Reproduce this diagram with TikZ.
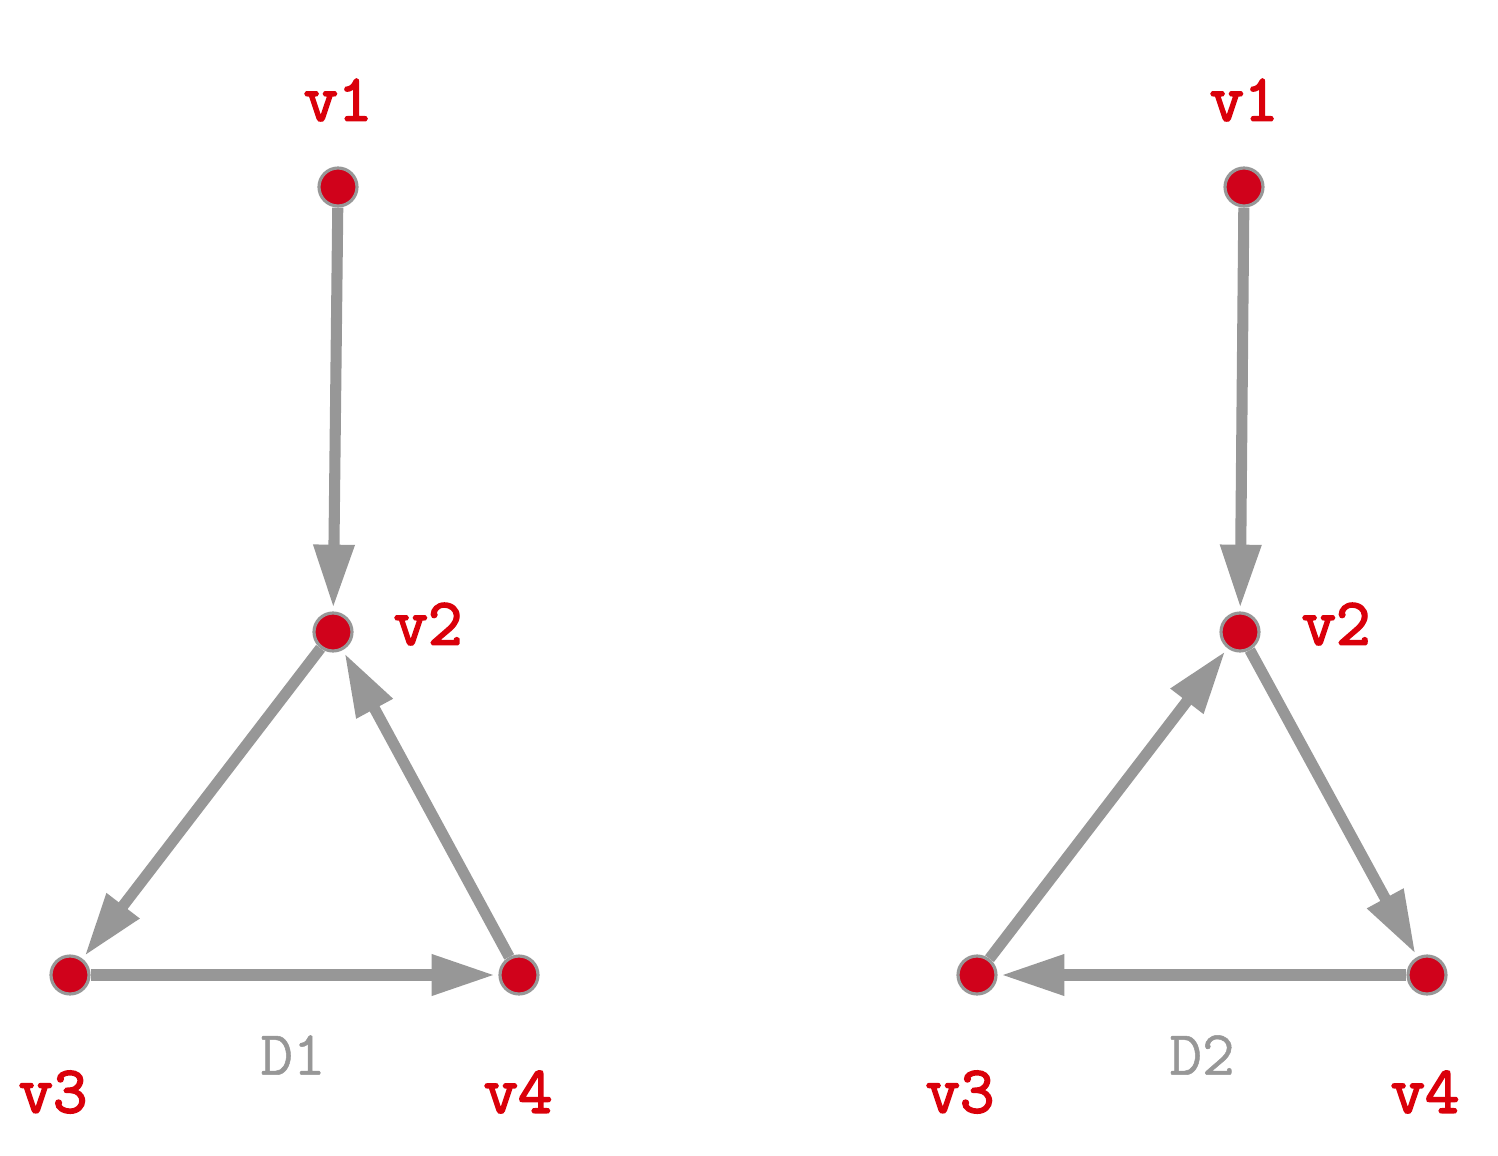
\documentclass[tikz,border=0pt]{standalone}
\usepackage{fontspec}
\newfontfamily\vfont[FakeBold=2.5]{Latin Modern Mono}
\newfontfamily\dfont[FakeBold=0.8]{Latin Modern Mono}
\usetikzlibrary{arrows.meta}
\definecolor{nodered}{RGB}{208,2,27}
\definecolor{labred}{RGB}{218,0,10}
\definecolor{edgegray}{RGB}{151,151,151}
\tikzset{
  vert/.style={circle,fill=nodered,draw=edgegray,line width=1.8pt,minimum size=0.76cm,inner sep=0pt},
  vlab/.style={text=labred,font=\vfont\fontsize{38}{38}\selectfont,inner sep=0pt},
  glab/.style={text=edgegray,font=\dfont\fontsize{36}{36}\selectfont,inner sep=0pt},
  edge/.style={draw=edgegray,line width=6.3pt,-{Triangle[length=36pt,width=22pt]},shorten >=2pt}
}
\begin{document}
\begin{tikzpicture}[x=0.02cm,y=-0.02cm]
\useasboundingbox (0,0) rectangle (1498,1156);
% left graph
\node[vert] (a1) at (338,187) {};
\node[vert] (a2) at (333,632) {};
\node[vert] (a3) at (70,975) {};
\node[vert] (a4) at (519,975) {};
\node[vlab] (la1) at (338,100) {v1};
\node[vlab] (la2) at (428,624) {v2};
\node[vlab] (la3) at (53,1092) {v3};
\node[vlab] (la4) at (518,1092) {v4};
\node[glab] (d1) at (293,1055) {D1};
\draw[edge] (a1) -- (a2);
\draw[edge] (a2) -- (a3);
\draw[edge] (a4) -- (a2);
\draw[edge] (a3) -- (a4);
% right graph
\node[vert] (b1) at (1244,187) {};
\node[vert] (b2) at (1240,632) {};
\node[vert] (b3) at (977,975) {};
\node[vert] (b4) at (1427,975) {};
\node[vlab] (lb1) at (1244,100) {v1};
\node[vlab] (lb2) at (1336,624) {v2};
\node[vlab] (lb3) at (960,1092) {v3};
\node[vlab] (lb4) at (1425,1092) {v4};
\node[glab] (d2) at (1202,1055) {D2};
\draw[edge] (b1) -- (b2);
\draw[edge] (b3) -- (b2);
\draw[edge] (b2) -- (b4);
\draw[edge] (b4) -- (b3);
\end{tikzpicture}
\end{document}
